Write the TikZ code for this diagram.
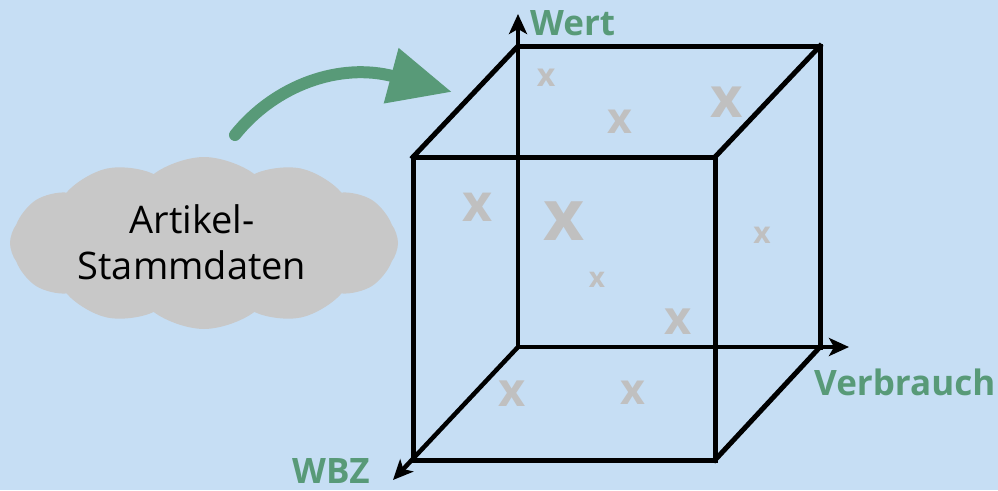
\documentclass[tikz,border=0pt]{standalone}
\usepackage{fontspec}
\setmainfont{Open Sans}
\usetikzlibrary{arrows.meta,shapes.symbols}
\definecolor{bgblue}{RGB}{198,222,244}
\definecolor{axisgreen}{RGB}{88,154,120}
\definecolor{cloudgray}{RGB}{200,200,200}
\definecolor{markgray}{RGB}{192,192,192}
\newcommand{\fs}[1]{\fontsize{#1}{#1}\selectfont}
\tikzset{
  edge/.style={line width=5pt, line cap=rect},
  axisarrow/.style={line width=4.5pt, -{Stealth[length=20pt,width=18pt,inset=5pt]}},
  axislabel/.style={text=axisgreen, font=\bfseries\fs{35}, inner sep=0pt, anchor=base west},
  wolke/.style={shape=cloud, cloud puffs=12, cloud puff arc=75, cloud ignores aspect,
    minimum width=388pt, minimum height=172pt, fill=cloudgray, draw=none, inner sep=0pt},
  flow/.style={draw=axisgreen, line width=12pt, line cap=round,
    -{Triangle[length=63pt,width=54pt,fill=axisgreen]}},
  mark/.style={text=markgray, inner sep=0pt, font=\bfseries\fs{#1}},
}
\begin{document}
\begin{tikzpicture}[x=1pt,y=-1pt]
  \fill[bgblue] (0,0) rectangle (998,490);
  \useasboundingbox (0,0) rectangle (998,490);

  % master data cloud
  \node[wolke] (cloud) at (204,243) {};
  \node[align=center, font=\fontsize{38}{46}\selectfont, inner sep=0pt] (stamm) at (192,242) {Artikel-\\Stammdaten};

  % cube corners
  \coordinate (ftl) at (413,157);
  \coordinate (ftr) at (715,157);
  \coordinate (fbr) at (715,460);
  \coordinate (fbl) at (413,460);
  \coordinate (btl) at (518,46);
  \coordinate (btr) at (820,46);
  \coordinate (bbr) at (820,347);
  \coordinate (bbl) at (518,347);

  % axis tips
  \coordinate (wtip) at (518,14);
  \coordinate (vtip) at (849,347);
  \coordinate (ztip) at (393,480);

  % green arrow from cloud to cube
  \coordinate (flowstart) at (235,135);
  \coordinate (flowend) at (452,92);
  \draw[flow] (flowstart) .. controls (275,85) and (340,62) .. (flowend);

  % cube edges
  \draw[edge] (ftl) -- (ftr) -- (fbr) -- (fbl) -- cycle;
  \draw[edge] (btl) -- (btr) -- (bbr);
  \draw[edge] (ftl) -- (btl);
  \draw[edge] (ftr) -- (btr);
  \draw[edge] (fbr) -- (bbr);

  % axes
  \draw[axisarrow] (bbl) -- (wtip);
  \draw[axisarrow] (bbl) -- (vtip);
  \draw[axisarrow] (bbl) -- (ztip);

  \node[axislabel] (wert) at (530,35) {Wert};
  \node[axislabel] (verbrauch) at (814,395) {Verbrauch};
  \node[axislabel] (wbz) at (292,483) {WBZ};

  % data points
  \node[mark=32] (x1) at (546,78) {x};
  \node[mark=43] (x2) at (620,122) {x};
  \node[mark=56] (x3) at (727,102) {x};
  \node[mark=52] (x4) at (478,207) {x};
  \node[mark=71] (x5) at (564,221) {x};
  \node[mark=28] (x6) at (597,280) {x};
  \node[mark=30] (x7) at (762,235) {x};
  \node[mark=47] (x8) at (678,322) {x};
  \node[mark=47] (x9) at (512,394) {x};
  \node[mark=43] (x10) at (633,393) {x};
\end{tikzpicture}
\end{document}
